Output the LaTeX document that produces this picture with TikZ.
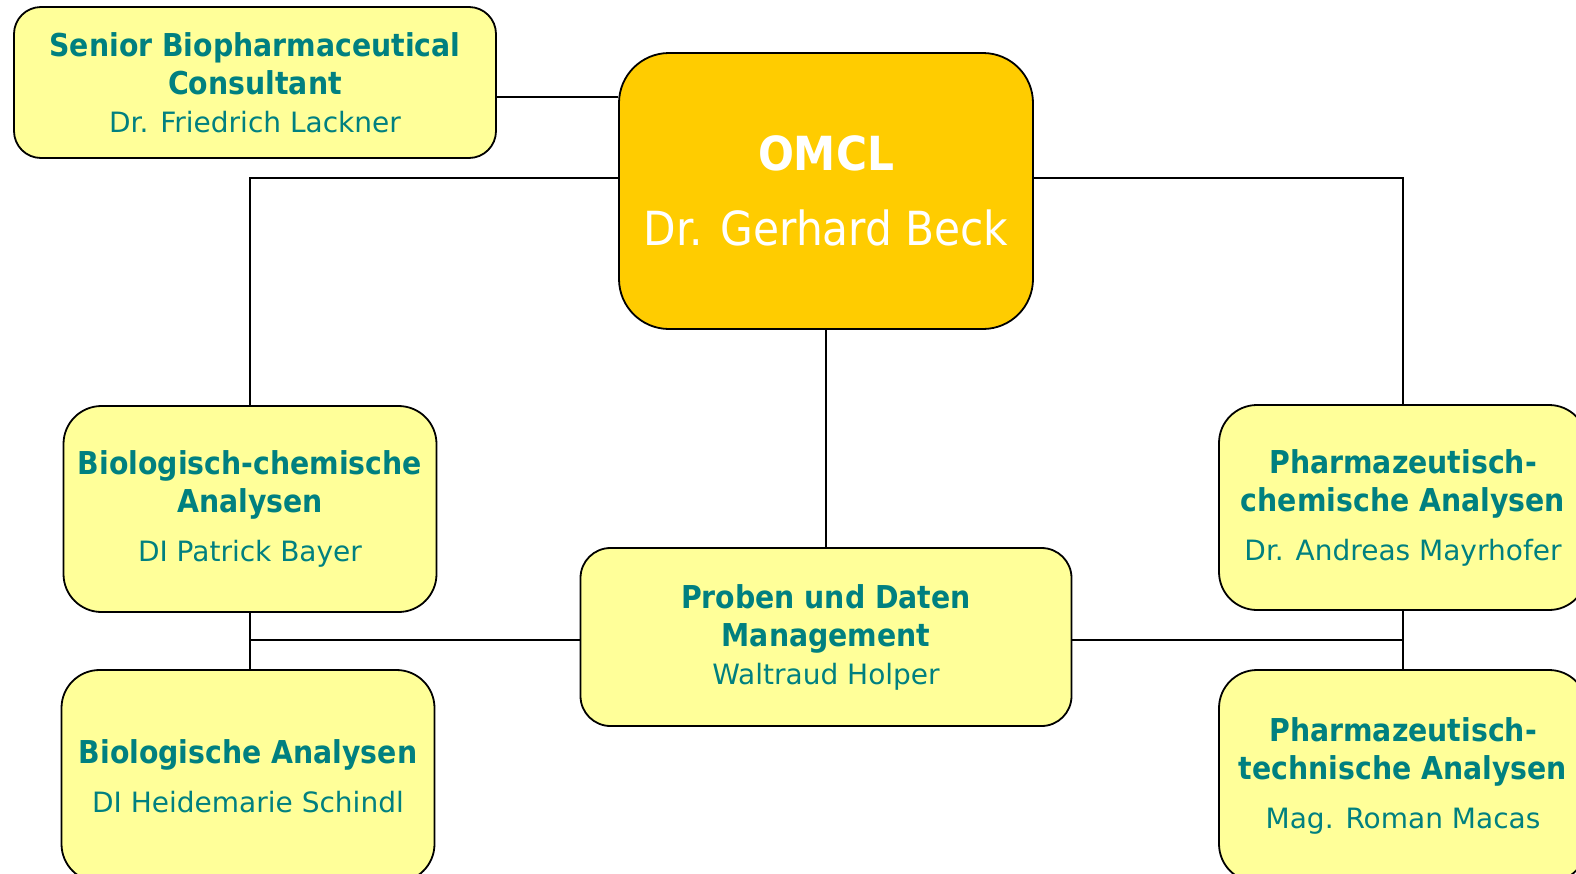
\documentclass[tikz,border=0pt]{standalone}
\usepackage{fontspec}
\setmainfont{DejaVu Sans Condensed}
\newfontfamily\widefont{DejaVu Sans}
\usepackage{tikz}
\usetikzlibrary{positioning}
\definecolor{BoxYellow}{HTML}{FFFF99}
\definecolor{HeadGold}{HTML}{FFCC00}
\definecolor{TextTeal}{HTML}{008080}
\tikzset{
  % Box styles
  unitbox/.style={rectangle, rounded corners=38pt, draw=black, line width=1.8pt, fill=BoxYellow, text=TextTeal, align=center, inner sep=0pt, font=\fontsize{31.5}{38}\selectfont\bfseries},
  headbox/.style={unitbox, fill=HeadGold, text=white, rounded corners=50pt, font=\fontsize{47}{75}\selectfont},
  % Line styles
  link/.style={draw=black, line width=1.5pt}
}
\newcommand{\unitname}{\widefont\mdseries\fontsize{28}{38}\selectfont}

\begin{document}
\begin{tikzpicture}[x=1pt, y=-1pt]
  \useasboundingbox (0,0) rectangle (1576,873);

  % Head of the laboratory
  \node[headbox, minimum width=414pt, minimum height=276pt] (omcl) at (826,191)
    {\bfseries OMCL\\\mdseries Dr. Gerhard Beck};

  % Staff unit
  \node[unitbox, rounded corners=27pt, minimum width=482pt, minimum height=151pt] (senior) at (255,82.5)
    {Senior Biopharmaceutical\\Consultant\\\unitname Dr. Friedrich Lackner};

  % Departments
  \node[unitbox, minimum width=373pt, minimum height=206pt] (biochem) at (250,509)
    {Biologisch-chemische\\Analysen\\[11pt]\unitname DI Patrick Bayer};
  \node[unitbox, minimum width=373pt, minimum height=212pt] (bio) at (248,776)
    {Biologische Analysen\\[11pt]\unitname DI Heidemarie Schindl};
  \node[unitbox, rounded corners=30pt, minimum width=491pt, minimum height=178pt] (proben) at (826,637)
    {Proben und Daten\\Management\\\unitname Waltraud Holper};
  \node[unitbox, minimum width=368pt, minimum height=205pt] (pharmchem) at (1403,507.5)
    {Pharmazeutisch-\\chemische Analysen\\[11pt]\unitname Dr. Andreas Mayrhofer};
  \node[unitbox, minimum width=368pt, minimum height=212pt] (pharmtech) at (1403,776)
    {Pharmazeutisch-\\technische Analysen\\[11pt]\unitname Mag. Roman Macas};

  % Connections
  \draw[link] ([yshift=-14.5pt]senior.east) coordinate (s) -- (s -| omcl.west);
  \draw[link] ([yshift=13pt]omcl.west) -| (biochem.north);
  \draw[link] ([yshift=13pt]omcl.east) -| (pharmchem.north);
  \draw[link] (omcl.south) -- (proben.north);
  \draw[link] (biochem.south) -- (biochem.south |- bio.north);
  \draw[link] ([yshift=-3pt]proben.west) coordinate (p) -- (p -| biochem.south);
  \draw[link] ([yshift=-3pt]proben.east) coordinate (q) -- (q -| pharmchem.south);
  \draw[link] (pharmchem.south) -- (pharmtech.north);
\end{tikzpicture}
\end{document}
